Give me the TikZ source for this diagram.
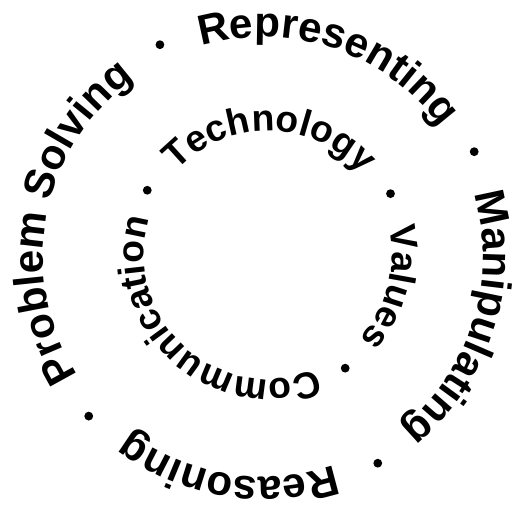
\documentclass[tikz,border=0pt]{standalone}
\usepackage{fontspec}
\newfontfamily\ringfont{Liberation Sans}
\usepackage{tikz}
\usetikzlibrary{decorations.text}
\newcommand{\outfmt}{\ringfont\bfseries\fontsize{30}{31}\selectfont}
\newcommand{\infmt}{\ringfont\bfseries\fontsize{26.5}{28}\selectfont}
\tikzset{
  outword/.style={decorate,decoration={text along path,text align=center,text={|\outfmt|#1}}},
  inword/.style={decorate,decoration={text along path,text align=center,text={|\infmt|#1}}},
  sep/.style={fill=black},
}

\begin{document}
\begin{tikzpicture}
  \useasboundingbox (0,0) rectangle (12.925,12.625);
  \coordinate (oc) at (6.575,6.2);
  \coordinate (ic) at (6.7,6.25);
  % outer ring, clockwise
  \path[outword=Representing] ([shift={(141.2:5.5)}]oc) arc[start angle=141.2,end angle=1.2,radius=5.5];
  \path[outword=Manipulating] ([shift={(52.8:5.5)}]oc) arc[start angle=52.8,end angle=-87.2,radius=5.5];
  \path[outword=Reasoning] ([shift={(-29.25:5.5)}]oc) arc[start angle=-29.25,end angle=-169.25,radius=5.5];
  \path[outword=Problem Solving] ([shift={(254.15:5.5)}]oc) arc[start angle=254.15,end angle=84.15,radius=5.5];
  \foreach \a in {115.9,26.5,-60.9,-137.6}
    \fill[sep] ([shift={(\a:5.9)}]oc) circle (0.11);
  % inner ring
  \path[inword=Technology] ([shift={(159.2:3.1)}]ic) arc[start angle=159.2,end angle=19.2,radius=3.1];
  \path[inword=Values] ([shift={(55.45:3.1)}]ic) arc[start angle=55.45,end angle=-84.55,radius=3.1];
  \path[inword=Communication] ([shift={(-46.95:3.1)}]ic) arc[start angle=-46.95,end angle=-216.95,radius=3.1];
  \foreach \a in {151.8,26.6,-55.7}
    \fill[sep] ([shift={(\a:3.425)}]ic) circle (0.11);
\end{tikzpicture}
\end{document}
